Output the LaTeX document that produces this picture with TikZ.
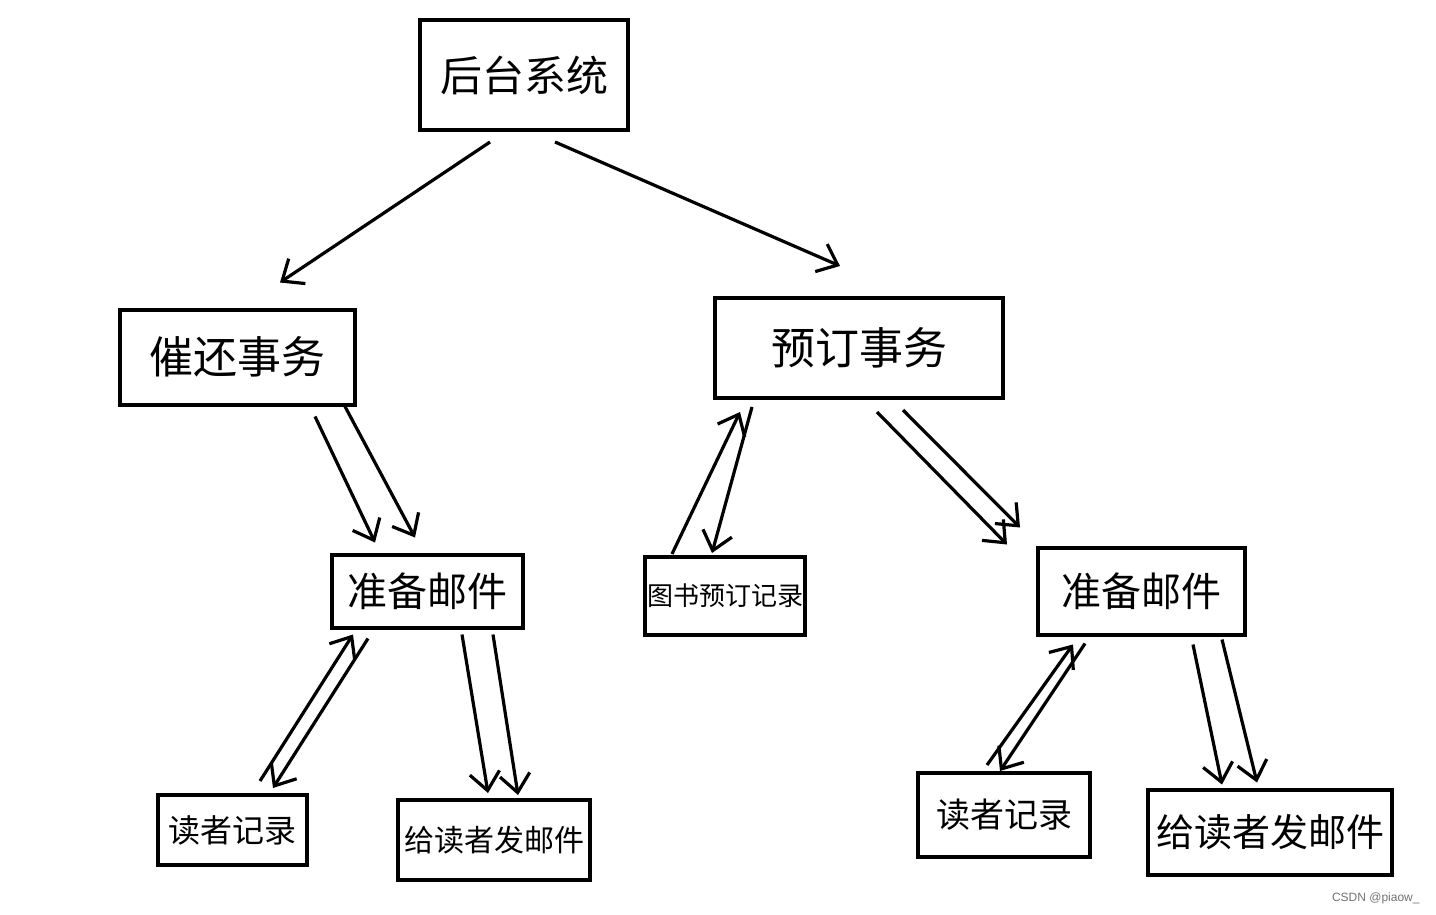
\documentclass[tikz,border=0pt]{standalone}
\usepackage{fontspec}
\newfontfamily\cjk{Noto Sans CJK SC}
\newfontfamily\wm{Liberation Sans}
\usetikzlibrary{arrows.meta,calc}
\begin{document}
\begin{tikzpicture}[x=0.5pt,y=-0.5pt,
  box/.style={draw,line width=2pt,inner sep=0pt,font=\cjk},
  arr/.style={line width=1.6pt,-{Straight Barb[length=9pt,width=15pt,line width=1.6pt]}}]
\fill[white] (0,0) rectangle (1436,915);
\useasboundingbox (0,0) rectangle (1436,915);
\node[box,minimum width=104pt,minimum height=55pt,font=\cjk\fontsize{21}{24}\selectfont] (top) at (524,75) {后台系统};
\node[box,minimum width=117.5pt,minimum height=47.5pt,font=\cjk\fontsize{22}{24}\selectfont] (cui) at (237,357) {催还事务};
\node[box,minimum width=144pt,minimum height=50pt,font=\cjk\fontsize{22}{24}\selectfont] (yd) at (859,348) {预订事务};
\node[box,minimum width=95.5pt,minimum height=36.5pt,font=\cjk\fontsize{20}{22}\selectfont] (zbL) at (427,591) {准备邮件};
\node[box,minimum width=80pt,minimum height=39pt,font=\cjk\fontsize{13}{15}\selectfont] (ts) at (725,596) {图书预订记录};
\node[box,minimum width=103.5pt,minimum height=43.5pt,font=\cjk\fontsize{20}{22}\selectfont] (zbR) at (1141,591) {准备邮件};
\node[box,minimum width=74.5pt,minimum height=35pt,font=\cjk\fontsize{16}{18}\selectfont] (dzL) at (232,830) {读者记录};
\node[box,minimum width=96pt,minimum height=40pt,font=\cjk\fontsize{15}{17}\selectfont] (gdL) at (494,840) {给读者发邮件};
\node[box,minimum width=86pt,minimum height=42pt,font=\cjk\fontsize{17}{19}\selectfont] (dzR) at (1004,815) {读者记录};
\node[box,minimum width=122pt,minimum height=42.5pt,font=\cjk\fontsize{19}{21}\selectfont] (gdR) at (1270,832) {给读者发邮件};
% arrows
\draw[arr] ($(top.south)+(-34,10)$) -- ($(cui.north)+(43,-25)$);
\draw[arr] ($(top.south)+(31,10)$) -- ($(yd.north)+(-19,-30)$);
\draw[arr] ($(cui.south)+(78,10)$) -- ($(zbL.north)+(-52,-10)$);
\draw[arr] ($(cui.south)+(108,0)$) -- ($(zbL.north)+(-12,-15)$);
\draw[arr] ($(yd.south)+(-107,7)$) -- ($(ts.north)+(-13,-2)$);
\draw[arr] ($(ts.north)+(-53,-1)$) -- ($(yd.south)+(-119,12)$);
\draw[arr] ($(yd.south)+(18,12)$) -- ($(zbR.north)+(-134,-1)$);
\draw[arr] ($(yd.south)+(44,10)$) -- ($(zbR.north)+(-121,-18)$);
\draw[arr] ($(dzL.north)+(28,-12)$) -- ($(zbL.south)+(-74,5)$);
\draw[arr] ($(zbL.south)+(-59,9)$) -- ($(dzL.north)+(41,-5)$);
\draw[arr] ($(zbL.south)+(35,5)$) -- ($(gdL.north)+(-6,-5)$);
\draw[arr] ($(zbL.south)+(66,5)$) -- ($(gdL.north)+(24,-3)$);
\draw[arr] ($(dzR.north)+(-17,-6)$) -- ($(zbR.south)+(-68,8)$);
\draw[arr] ($(zbR.south)+(-56,7)$) -- ($(dzR.north)+(-4,0)$);
\draw[arr] ($(zbR.south)+(52,8)$) -- ($(gdR.north)+(-48,-3)$);
\draw[arr] ($(zbR.south)+(81,3)$) -- ($(gdR.north)+(-13,-5)$);
\node[font=\wm\fontsize{6}{7}\selectfont,text=black!55,anchor=east,inner sep=0pt] (wmk) at (1420,898) {CSDN @piaow\_};
\end{tikzpicture}
\end{document}
